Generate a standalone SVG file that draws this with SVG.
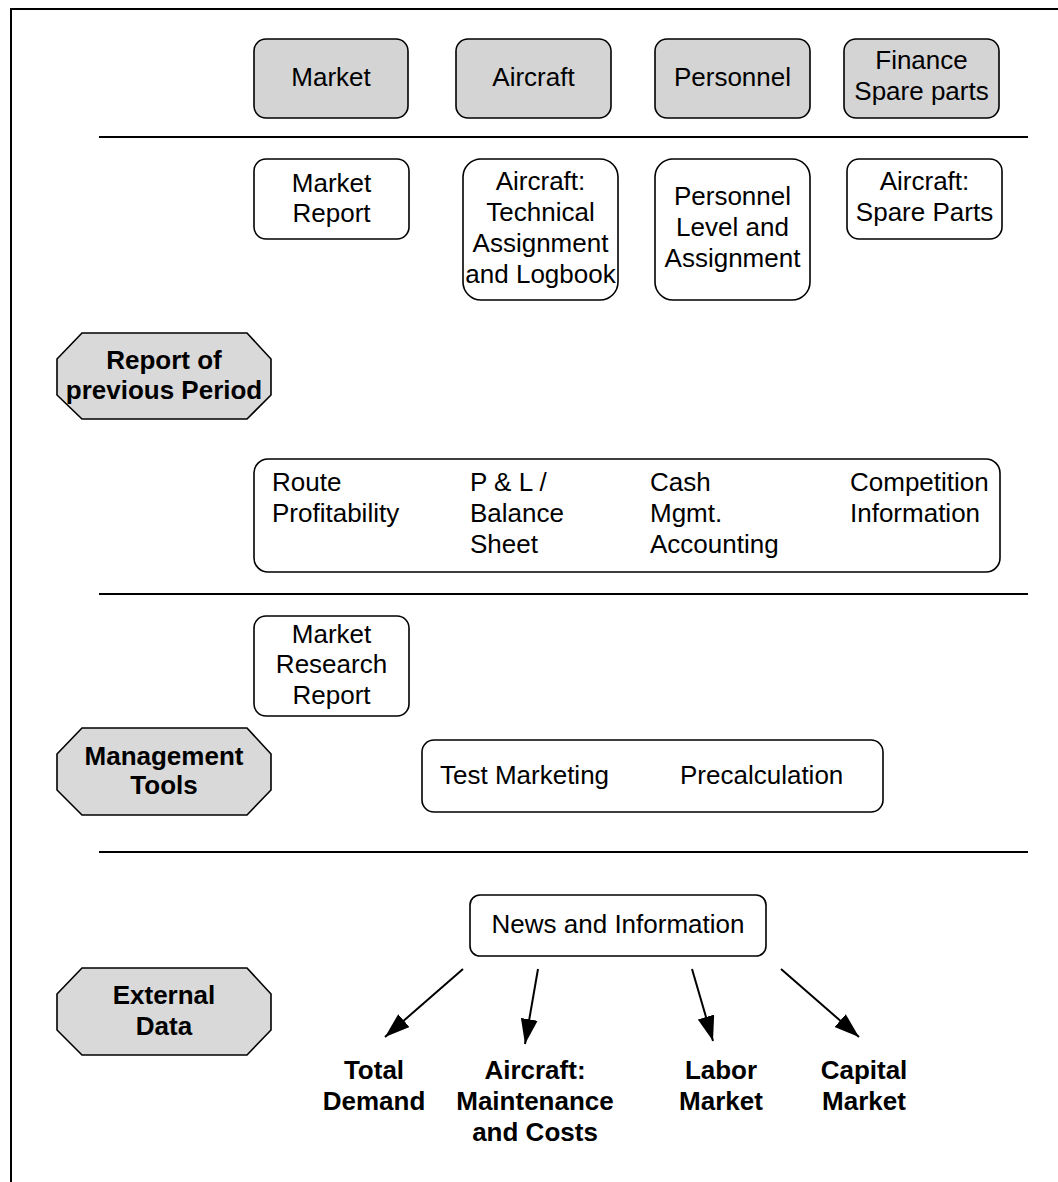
<svg xmlns="http://www.w3.org/2000/svg" width="1058" height="1182" viewBox="0 0 1058 1182">
<style>
.t{font-family:"Liberation Sans",Arial,sans-serif;font-size:26px;fill:#000}
.m{text-anchor:middle}
.b{font-weight:bold}
.gb{fill:#d4d4d4;stroke:#000;stroke-width:1.6}
.wb{fill:#fff;stroke:#000;stroke-width:1.6}
.oct{fill:#d9d9d9;stroke:#000;stroke-width:1.6}
.sep{stroke:#000;stroke-width:2}
.arr{stroke:#000;stroke-width:2;fill:none;marker-end:url(#ah)}
</style>
<defs>
<marker id="ah" markerUnits="userSpaceOnUse" markerWidth="26" markerHeight="18" refX="25" refY="8.5" orient="auto">
<path d="M0,0 L25,8.5 L0,17 Z" fill="#000"/>
</marker>
</defs>
<rect x="0" y="0" width="1058" height="1182" fill="#fff"/>
<rect id="frame" x="11" y="9" width="1100" height="1250" fill="none" stroke="#000" stroke-width="2"/>
<g id="separators">
<line class="sep" x1="99" y1="137" x2="1028" y2="137"/>
<line class="sep" x1="99" y1="594" x2="1028" y2="594"/>
<line class="sep" x1="99" y1="852" x2="1028" y2="852"/>
</g>
<g id="n-market"><rect class="gb" x="254" y="39" width="154" height="79" rx="12"/><text class="t m" x="331" y="86">Market</text></g>
<g id="n-aircraft"><rect class="gb" x="456" y="39" width="155" height="79" rx="12"/><text class="t m" x="533.5" y="86">Aircraft</text></g>
<g id="n-personnel"><rect class="gb" x="655" y="39" width="155" height="79" rx="12"/><text class="t m" x="732.5" y="86">Personnel</text></g>
<g id="n-finance"><rect class="gb" x="844" y="39" width="155" height="79" rx="12"/><text class="t m" x="921.5" y="69">Finance</text><text class="t m" x="921.5" y="100">Spare parts</text></g>
<g id="n-market-report"><rect class="wb" x="254" y="159" width="155" height="80" rx="12"/><text class="t m" x="331.5" y="192">Market</text><text class="t m" x="331.5" y="222">Report</text></g>
<g id="n-aircraft-tech"><rect class="wb" x="463" y="159" width="155" height="141" rx="18"/><text class="t m" x="540.5" y="190">Aircraft:</text><text class="t m" x="540.5" y="221">Technical</text><text class="t m" x="540.5" y="252">Assignment</text><text class="t m" x="540.5" y="283">and Logbook</text></g>
<g id="n-personnel-level"><rect class="wb" x="655" y="159" width="155" height="141" rx="18"/><text class="t m" x="732.5" y="205">Personnel</text><text class="t m" x="732.5" y="236">Level and</text><text class="t m" x="732.5" y="267">Assignment</text></g>
<g id="n-spare-parts"><rect class="wb" x="847" y="159" width="155" height="80" rx="12"/><text class="t m" x="924.5" y="190">Aircraft:</text><text class="t m" x="924.5" y="221">Spare Parts</text></g>
<g id="n-report-prev"><polygon class="oct" points="82,333 247,333 271,359 271,395 247,419 82,419 57,395 57,359"/><text class="t m b" x="164" y="369">Report of</text><text class="t m b" x="164" y="399">previous Period</text></g>
<g id="n-reports"><rect class="wb" x="254" y="459" width="746" height="113" rx="14"/>
<text class="t" x="272" y="491">Route</text><text class="t" x="272" y="522">Profitability</text>
<text class="t" x="470" y="491">P &amp; L /</text><text class="t" x="470" y="522">Balance</text><text class="t" x="470" y="553">Sheet</text>
<text class="t" x="650" y="491">Cash</text><text class="t" x="650" y="522">Mgmt.</text><text class="t" x="650" y="553">Accounting</text>
<text class="t" x="850" y="491">Competition</text><text class="t" x="850" y="522">Information</text></g>
<g id="n-market-research"><rect class="wb" x="254" y="616" width="155" height="100" rx="12"/><text class="t m" x="331.5" y="643">Market</text><text class="t m" x="331.5" y="673">Research</text><text class="t m" x="331.5" y="704">Report</text></g>
<g id="n-mgmt-tools"><polygon class="oct" points="82,728 247,728 271,754 271,790 247,815 82,815 57,790 57,754"/><text class="t m b" x="164" y="765">Management</text><text class="t m b" x="164" y="794">Tools</text></g>
<g id="n-test"><rect class="wb" x="422" y="740" width="461" height="72" rx="12"/><text class="t" x="440" y="784">Test Marketing</text><text class="t" x="680" y="784">Precalculation</text></g>
<g id="n-news"><rect class="wb" x="470" y="895" width="296" height="61" rx="10"/><text class="t m" x="618" y="933">News and Information</text></g>
<g id="n-external"><polygon class="oct" points="82,968 247,968 271,994 271,1030 247,1055 82,1055 57,1030 57,994"/><text class="t m b" x="164" y="1004">External</text><text class="t m b" x="164" y="1035">Data</text></g>
<g id="n-total-demand"><text class="t m b" x="374" y="1079">Total</text><text class="t m b" x="374" y="1110">Demand</text></g>
<g id="n-aircraft-maint"><text class="t m b" x="535" y="1079">Aircraft:</text><text class="t m b" x="535" y="1110">Maintenance</text><text class="t m b" x="535" y="1141">and Costs</text></g>
<g id="n-labor"><text class="t m b" x="721" y="1079">Labor</text><text class="t m b" x="721" y="1110">Market</text></g>
<g id="n-capital"><text class="t m b" x="864" y="1079">Capital</text><text class="t m b" x="864" y="1110">Market</text></g>
<g id="connectors">
<line class="arr" x1="463" y1="969" x2="385" y2="1037"/>
<line class="arr" x1="538" y1="969" x2="525" y2="1044"/>
<line class="arr" x1="692" y1="969" x2="713" y2="1041"/>
<line class="arr" x1="781" y1="969" x2="859" y2="1037"/>
</g>
</svg>
